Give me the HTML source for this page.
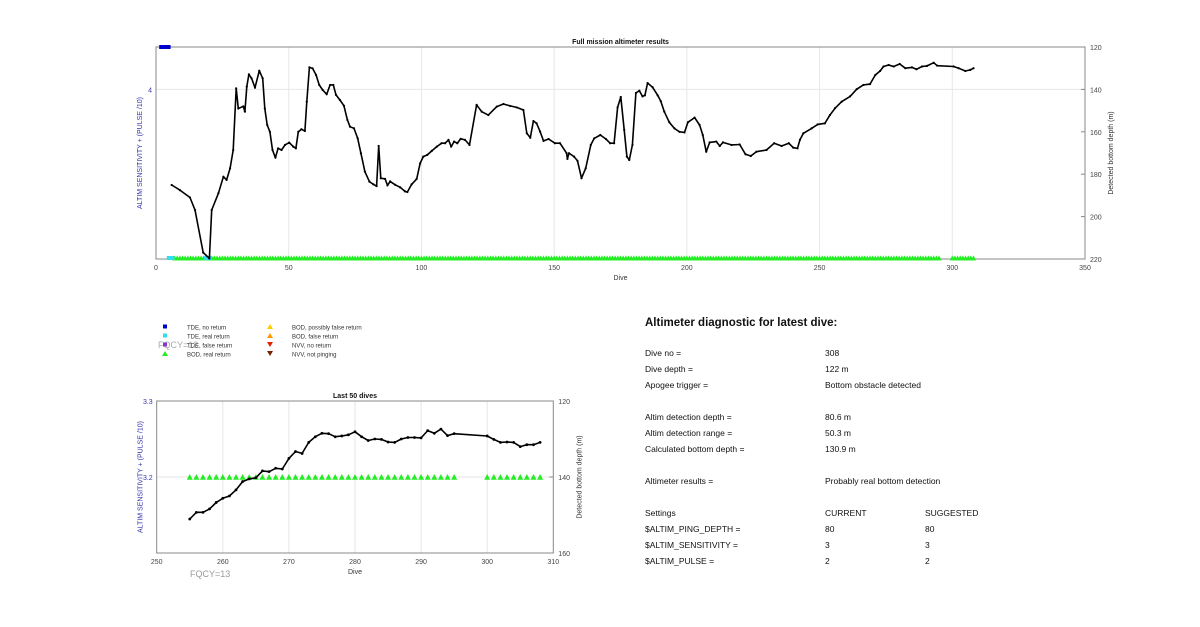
<!DOCTYPE html>
<html><head><meta charset="utf-8"><style>
body{margin:0;background:#fff;}
svg{font-family:"Liberation Sans",sans-serif;}
</style></head><body>
<svg id="c" width="1200" height="622" viewBox="0 0 1200 622" xmlns="http://www.w3.org/2000/svg">
<g id="topchart"></g>
<g id="botchart"></g>
<g id="legend"></g>
<g id="panel"></g>
</svg>
<script>
const fullDives=[5.9,9,12.8,14.7,17.8,20.1,21,23.5,25.4,26.6,27.9,29.1,30.2,31,32.9,33.5,34.2,35,36,37.3,38.9,40.2,41,41.9,42.9,43.9,45,46,47.3,48.6,50.2,51.7,52.7,53.6,54.8,56.1,56.8,57.8,59,60.3,61.5,62.8,64.3,65.6,66.8,67.8,69.3,70.8,72.1,73.1,74.6,76,77.2,78.7,80.4,81.9,83.1,83.9,84.7,86.3,87.2,88.2,90.1,92,93.8,94.7,96.3,98.2,99.5,100.7,102.2,103.9,105.8,107.6,108.9,110.2,111.2,112.3,113.5,114.8,116.4,118.1,120.8,122.7,125.2,128.4,130.9,133.4,135.9,138.4,139.7,141,142.2,143.4,144.7,146,147.9,150.3,152.2,154.7,155,155.6,157.5,158.8,160.3,161.9,163.8,165.1,167.4,169.5,171.1,172.6,173.9,175.1,176.4,177.4,178.3,179.5,180.8,182.1,183.3,184.2,185.2,187.1,189,190.2,191.5,193.4,195.3,197.2,199.1,200.4,202.9,204.8,206,207.3,208.6,211.1,212.4,213.6,216.8,219.9,222.1,224.1,226.2,230,232.9,235.7,238.4,240.1,241.7,242.6,243.9,247,249.3,252,253.9,255.8,258.3,261.5,264,266.5,269,271,272.8,274.1,276,277.9,280.2,282.3,284.8,286.5,288.6,290.5,293,294.3,300.5,302.4,304.9,306.8,308];
const fullDepth=[185.1,187.5,191,196.9,217,219.7,196.9,189,181.2,182.7,177.2,168.6,139.5,149,148,150.5,138.7,132.9,134.8,139.2,131.2,134.8,149,156.8,160,168.6,172.2,167.8,168.6,166.2,165.1,167,167.8,160,158.8,159.6,145.8,129.6,130.1,133.2,137.9,140.3,142.3,137.9,137.9,142.6,145,147.7,154.4,157.6,158.4,163.1,170.1,178.8,183.5,184.8,185.6,166.7,181.9,182.2,185.3,183.4,185,186.2,188.1,188.4,184.8,182.2,174.9,171.7,170.9,169,167,165.4,165.4,163.8,167,164.6,165.4,163.3,163.8,166.2,147.3,150.5,152.1,148.1,146.9,147.8,148.5,149.7,160.7,162.8,154.9,156,159.9,164.3,163.4,165.4,165.4,170.1,172.8,170.1,171.7,173.7,181.9,177.2,166.2,163.1,161.5,163.4,165.4,165.4,148.5,143.6,159.1,171.7,173.3,166.2,141.7,140.6,143.3,142.8,137,139,142.8,145.6,150.5,155.5,158.4,160,160.3,155.5,153.3,156.8,161.5,169.4,165,164.6,166.7,165,166.2,166,170.6,171.4,169.4,168.6,165.4,166.7,165.4,167.5,167.8,163.8,160.7,158.4,156.5,156,152.1,148.9,145.8,143.3,139.9,137.9,137.5,133.2,131.3,129.2,128.5,129.2,128,130,129.6,130.5,129.2,128.9,127.4,128.8,129.2,130,131.3,130.8,130];
const bodDivesA=[7,295];
const bodDivesB=[300,308];
const tdeRealDives=[5,6,19,20];
const xTicksTop=[0,50,100,150,200,250,300,350];
const depthTicksTop=[120,140,160,180,200,220];
const lastDives=[255,256,257,258,259,260,261,262,263,264,265,266,267,268,269,270,271,272,273,274,275,276,277,278,279,280,281,282,283,284,285,286,287,288,289,290,291,292,293,294,295,300,301,302,303,304,305,306,307,308];
const lastDepth=[151.05,149.3,149.3,148.4,146.7,145.6,145,143.4,141.2,140.5,140.2,138.4,138.6,137.7,137.9,135.1,133.3,133.8,130.9,129.4,128.5,128.6,129.4,129.2,128.9,128.1,129.4,130.4,130,130.1,130.8,130.9,130,129.6,129.6,129.7,127.8,128.5,127.4,129.1,128.6,129.2,130.1,130.9,130.8,130.9,132,131.5,131.5,130.9];
const xTicksBot=[250,260,270,280,290,300,310];
const depthTicksBot=[120,140,160];

const NS="http://www.w3.org/2000/svg";
function mk(p,tag,at,txt){const e=document.createElementNS(NS,tag);for(const k in at)e.setAttribute(k,at[k]);if(txt!==undefined)e.textContent=txt;p.appendChild(e);return e;}

function drawChart(g,o){
  const X=v=>o.x0+(v-o.xmin)/(o.xmax-o.xmin)*(o.x1-o.x0);
  const Y=v=>o.y0+(v-o.dmin)/(o.dmax-o.dmin)*(o.y1-o.y0);
  const grid=mk(g,'g',{});
  
  
  o.xt.forEach(t=>{if(t>o.xmin&&t<o.xmax)mk(grid,'line',{x1:X(t),x2:X(t),y1:o.y0,y2:o.y1,stroke:'#e6e6e6','stroke-width':1});});
  mk(grid,'line',{x1:o.x0,x2:o.x1,y1:Y(140),y2:Y(140),stroke:'#e6e6e6','stroke-width':1});
  const fr=mk(g,'rect',{x:o.x0,y:o.y0,width:o.x1-o.x0,height:o.y1-o.y0,fill:'none',stroke:'#888','stroke-width':1});
  
  
  o.xt.forEach(t=>{const l=mk(g,'text',{x:X(t),y:o.y1+11,'font-size':7,fill:'#444','text-anchor':'middle'},String(t));});
  o.dt.forEach(t=>{mk(g,'line',{x1:o.x1,x2:o.x1-4,y1:Y(t),y2:Y(t),stroke:'#888'});const l=mk(g,'text',{x:o.x1+5,y:Y(t)+3,'font-size':7,fill:'#444'},String(t));});
  o.lt.forEach(t=>{const l=mk(g,'text',{x:o.x0-4,y:Y(t[1])+3,'font-size':7,fill:'#3333aa','text-anchor':'end'},t[0]);});
  const tt=mk(g,'text',{x:(o.x0+o.x1)/2,y:o.y0-3,'font-size':7,'font-weight':'bold','text-anchor':'middle',fill:'#111'},o.title);
  
  const xl=mk(g,'text',{x:(o.x0+o.x1)/2,y:o.y1+21,'font-size':7,'text-anchor':'middle',fill:'#333'},'Dive');
  
  const cy=(o.y0+o.y1)/2;
  const yl=mk(g,'text',{x:o.x0-14,y:cy,'font-size':7,fill:'#3333aa','text-anchor':'middle',transform:`rotate(-90 ${o.x0-14} ${cy})`},'ALTIM SENSITIVITY + (PULSE /10)');
  
  const rx=o.x1+28;
  const yr=mk(g,'text',{x:rx,y:cy,'font-size':7,fill:'#333','text-anchor':'middle',transform:`rotate(-90 ${rx} ${cy})`},'Detected bottom depth (m)');
  
  const tri=(x,y,s)=>`M${x-s} ${y+s*0.9}L${x} ${y-s}L${x+s} ${y+s*0.9}Z`;
  const mg=mk(g,'g',{});
  
  o.bod.forEach(r=>{for(let d=r[0];d<=r[1];d++){const p=mk(mg,'path',{d:tri(X(d),o.my,o.ts),fill:'#22ee22'});}});
  (o.tde||[]).forEach(d=>{const r=mk(g,'rect',{x:X(d)-2.5,y:o.my-2,width:5,height:4,fill:'#33ddee'});});
  const pts=o.dv.map((d,i)=>X(d).toFixed(1)+','+Y(o.dp[i]).toFixed(1)).join(' ');
  const pl=mk(g,'polyline',{points:pts,fill:'none',stroke:'#000','stroke-width':o.lw,'stroke-linejoin':'round'});
  
  o.dv.forEach((d,i)=>{const c=mk(g,'circle',{cx:X(d),cy:Y(o.dp[i]),r:o.mr,fill:'#000'});});
  return {X,Y};
}
const topG=document.getElementById('topchart');
const TT=drawChart(topG,{x0:156,x1:1085,y0:47,y1:259,xmin:0,xmax:350,dmin:120,dmax:220,xt:xTicksTop,dt:depthTicksTop,lt:[['4',140]],title:'Full mission altimeter results',dv:fullDives,dp:fullDepth,bod:[bodDivesA,bodDivesB],tde:tdeRealDives,my:258,ts:2.6,lw:1.6,mr:1.1});
const bsq=mk(topG,'rect',{x:TT.X(1.2),y:45,width:TT.X(5.5)-TT.X(1.2),height:4,fill:'#0000cc'});

const botG=document.getElementById('botchart');
drawChart(botG,{x0:156.7,x1:553.3,y0:401,y1:553,xmin:250,xmax:310,dmin:120,dmax:160,xt:xTicksBot,dt:depthTicksBot,lt:[['3.3',120],['3.2',140]],title:'Last 50 dives',dv:lastDives,dp:lastDepth,bod:[[255,295],[300,308]],my:477,ts:3,lw:1.6,mr:1.4});
const fq=mk(botG,'text',{x:190,y:577,'font-size':9,fill:'#999'},'FQCY=13');


const lg=document.getElementById('legend');
const L1=[['TDE, no return','#0000cc','sq'],['TDE, real return','#33ddee','sq'],['TDE, false return','#8833cc','sq'],['BOD, real return','#22ee22','up']];
const L2=[['BOD, possibly false return','#ffcc00','up'],['BOD, false return','#ff9900','up'],['NVV, no return','#dd2200','dn'],['NVV, not pinging','#772200','dn']];
const fq2=mk(lg,'text',{x:158,y:348,'font-size':9,fill:'#aaa'},'FQCY=13');

[[L1,165,187],[L2,270,292]].forEach(([L,mx,tx])=>L.forEach((it,i)=>{const y=327+i*9;
  const e=mk(lg,'g',{});
  if(it[2]=='sq')mk(e,'rect',{x:mx-2,y:y-2.5,width:4,height:4,fill:it[1]});
  else if(it[2]=='up')mk(e,'path',{d:`M${mx-3} ${y+2}L${mx} ${y-3}L${mx+3} ${y+2}Z`,fill:it[1]});
  else mk(e,'path',{d:`M${mx-3} ${y-3}L${mx} ${y+2}L${mx+3} ${y-3}Z`,fill:it[1]});
  mk(e,'text',{x:tx,y:y+2.5,'font-size':6,fill:'#333'},it[0]);}));

const pn=document.getElementById('panel');
const hd=mk(pn,'text',{x:645,y:326,'font-size':11.5,'font-weight':'bold',fill:'#111'},'Altimeter diagnostic for latest dive:');

const rows=[[356,'Dive no =','308',''],[372,'Dive depth =','122 m',''],[388,'Apogee trigger =','Bottom obstacle detected',''],[420,'Altim detection depth =','80.6 m',''],[436,'Altim detection range =','50.3 m',''],[452,'Calculated bottom depth =','130.9 m',''],[484,'Altimeter results =','Probably real bottom detection',''],[516,'Settings','CURRENT','SUGGESTED'],[532,'$ALTIM_PING_DEPTH =','80','80'],[548,'$ALTIM_SENSITIVITY =','3','3'],[564,'$ALTIM_PULSE =','2','2']];
rows.forEach(r=>{const e=mk(pn,'g',{});
  mk(e,'text',{x:645,y:r[0],'font-size':8.5,fill:'#111'},r[1]);mk(e,'text',{x:825,y:r[0],'font-size':8.5,fill:'#111'},r[2]);if(r[3])mk(e,'text',{x:925,y:r[0],'font-size':8.5,fill:'#111'},r[3]);});
</script>
</body></html>
